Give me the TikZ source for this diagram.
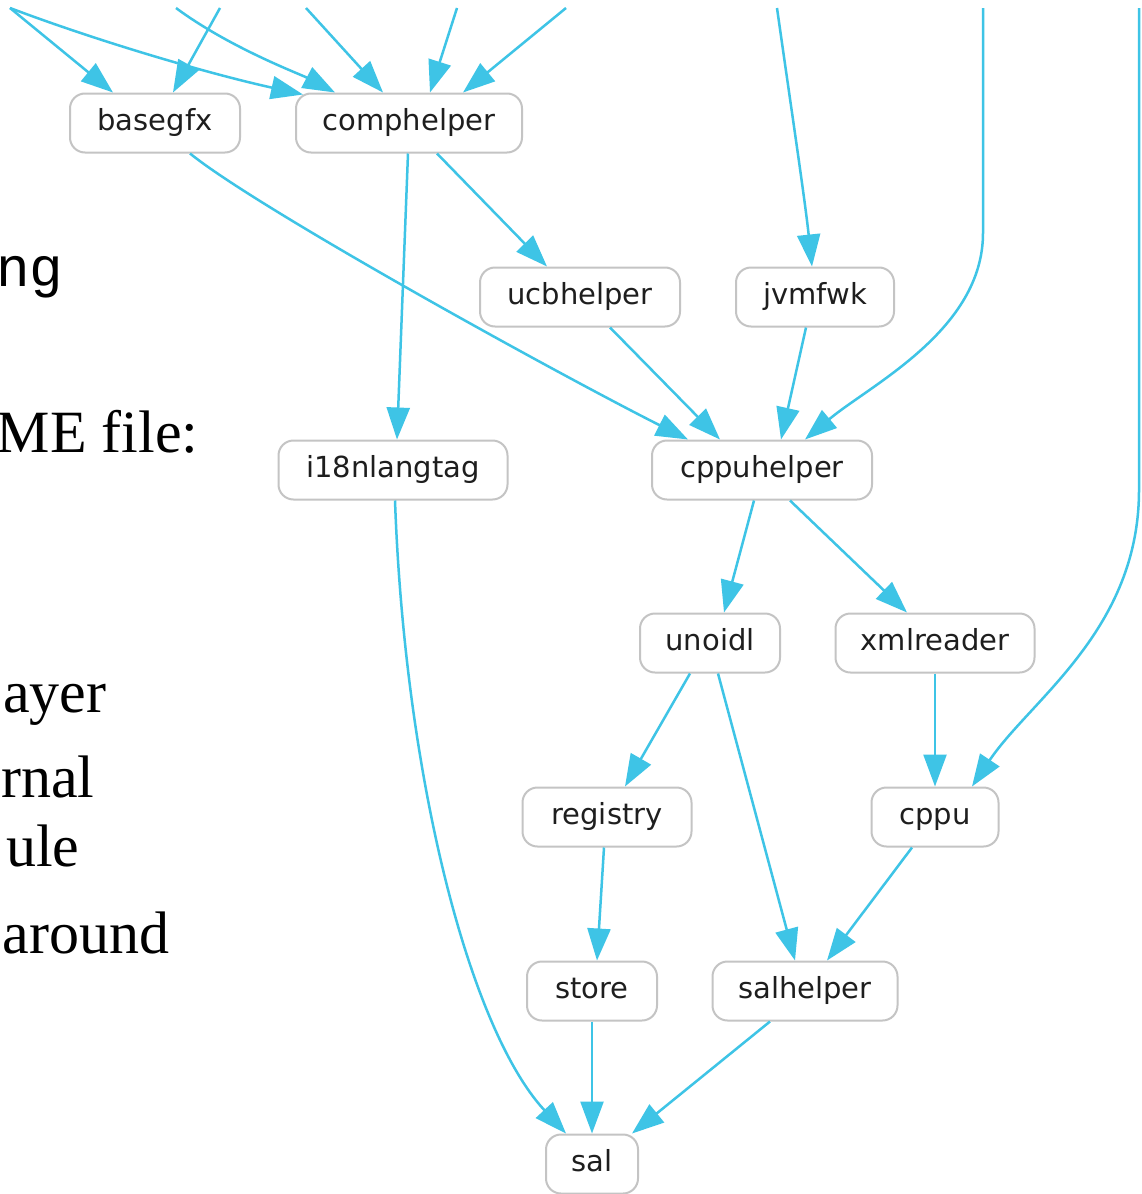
\documentclass[tikz,border=0pt]{standalone}
\usepackage{fontspec}
\setmainfont{DejaVu Sans}
\newfontfamily\slidefont{Liberation Serif}
\newfontfamily\slidemono{Liberation Mono}
\usetikzlibrary{arrows.meta,calc}
\definecolor{edgeblue}{RGB}{62,196,230}
\definecolor{boxgray}{RGB}{196,196,196}
\definecolor{labelgray}{RGB}{30,30,30}
\begin{document}
\begin{tikzpicture}[x=0.5pt,y=-0.5pt,
  module/.style={draw=boxgray, line width=1pt, fill=white, rounded corners=7.5pt,
    minimum height=29.5pt, inner xsep=2pt, inner ysep=0pt, text=labelgray,
    text height=10pt, text depth=3pt, font=\fontsize{14.5}{17}\selectfont},
  dep/.style={draw=edgeblue, line width=1.25pt, -{Triangle[length=16pt,width=11.5pt]}},
  slide/.style={anchor=base east, inner sep=0pt, text=black, font=\slidefont\fontsize{30}{36}\selectfont}]

\useasboundingbox (0,0) rectangle (1141,1194);
\fill[white] (0,0) rectangle (1141,1194);
\clip (0,0) rectangle (1141,1194);

% slide text running off the left edge
\node[slide, font=\slidemono\fontsize{28}{32}\selectfont] (t1) at (64,286) {ng};
\node[slide] (t2) at (199,452) {ME file:};
\node[slide] (t3) at (107,712) {ayer};
\node[slide] (t4) at (95,797) {rnal};
\node[slide] (t5) at (80,866) {ule};
\node[slide] (t6) at (170,953) {around};

% module boxes
\node[module, minimum width=85pt]   (basegfx)     at (155,123)  {basegfx};
\node[module, minimum width=113pt]  (comphelper)  at (409,123)  {comphelper};
\node[module, minimum width=100pt]  (ucbhelper)   at (580,297)  {ucbhelper};
\node[module, minimum width=79pt]   (jvmfwk)      at (815,297)  {jvmfwk};
\node[module, minimum width=114.5pt](i18nlangtag) at (393,470)  {i18nlangtag};
\node[module, minimum width=110pt]  (cppuhelper)  at (762,470)  {cppuhelper};
\node[module, minimum width=70pt]   (unoidl)      at (710,643)  {unoidl};
\node[module, minimum width=99.5pt] (xmlreader)   at (935,643)  {xmlreader};
\node[module, minimum width=84.5pt] (registry)    at (607,817)  {registry};
\node[module, minimum width=63.5pt] (cppu)        at (935,817)  {cppu};
\node[module, minimum width=65pt]   (store)       at (592,991)  {store};
\node[module, minimum width=92.5pt] (salhelper)   at (805,991)  {salhelper};
\node[module, minimum width=46pt]   (sal)         at (592,1164) {sal};

% dependencies entering from above
\coordinate (tl) at (10,8);
\coordinate (ta) at (176,8);
\coordinate (tb) at (220,8);
\coordinate (tc) at (306,8);
\coordinate (td) at (457,8);
\coordinate (te) at (566,8);
\coordinate (tf) at (777,8);
\coordinate (tg) at (983,8);
\coordinate (th) at (1139,8);

\draw[dep] (tl) -- ($(basegfx.north)+(-42,0)$);
\draw[dep] (tl) .. controls (100,42) and (210,74) .. ($(comphelper.north)+(-106,2)$);
\draw[dep] (ta) .. controls (230,48) and (300,74) .. ($(comphelper.north)+(-74,0)$);
\draw[dep] (tb) -- ($(basegfx.north)+(18,0)$);
\draw[dep] (tc) -- ($(comphelper.north)+(-26,0)$);
\draw[dep] (td) -- ($(comphelper.north)+(21,0)$);
\draw[dep] (te) -- ($(comphelper.north)+(54,0)$);
\draw[dep] (tf) .. controls (790,100) and (805,200) .. ($(jvmfwk.north)+(-3,0)$);
\draw[dep] (tg) -- (983,233) .. controls (983,330) and (870,385) .. ($(cppuhelper.north)+(43,0)$);
\draw[dep] (th) -- (1139,490) .. controls (1139,630) and (1030,700) .. ($(cppu.north)+(37,0)$);

% dependencies between the modules
\draw[dep] ($(basegfx.south)+(35,0)$) .. controls (260,210) and (560,375) .. ($(cppuhelper.north)+(-74,0)$);
\draw[dep] ($(comphelper.south)+(28,0)$) -- ($(ucbhelper.north)+(-33,0)$);
\draw[dep] ($(comphelper.south)+(-1,0)$) -- ($(i18nlangtag.north)+(4,0)$);
\draw[dep] ($(ucbhelper.south)+(30,0)$) -- ($(cppuhelper.north)+(-42,0)$);
\draw[dep] ($(jvmfwk.south)+(-9,0)$) -- ($(cppuhelper.north)+(19,0)$);
\draw[dep] ($(cppuhelper.south)+(-8,0)$) -- ($(unoidl.north)+(14,0)$);
\draw[dep] ($(cppuhelper.south)+(28,0)$) -- ($(xmlreader.north)+(-28,0)$);
\draw[dep] ($(i18nlangtag.south)+(2,0)$) .. controls (405,780) and (470,1030) .. ($(sal.north)+(-26,0)$);
\draw[dep] ($(unoidl.south)+(-20,0)$) -- ($(registry.north)+(18,0)$);
\draw[dep] ($(unoidl.south)+(8,0)$) -- ($(salhelper.north)+(-10,0)$);
\draw[dep] (xmlreader) -- (cppu);
\draw[dep] ($(registry.south)+(-3,0)$) -- ($(store.north)+(5,0)$);
\draw[dep] ($(cppu.south)+(-23,0)$) -- ($(salhelper.north)+(22,0)$);
\draw[dep] (store) -- (sal);
\draw[dep] ($(salhelper.south)+(-35,0)$) -- ($(sal.north)+(40,0)$);
\end{tikzpicture}
\end{document}
